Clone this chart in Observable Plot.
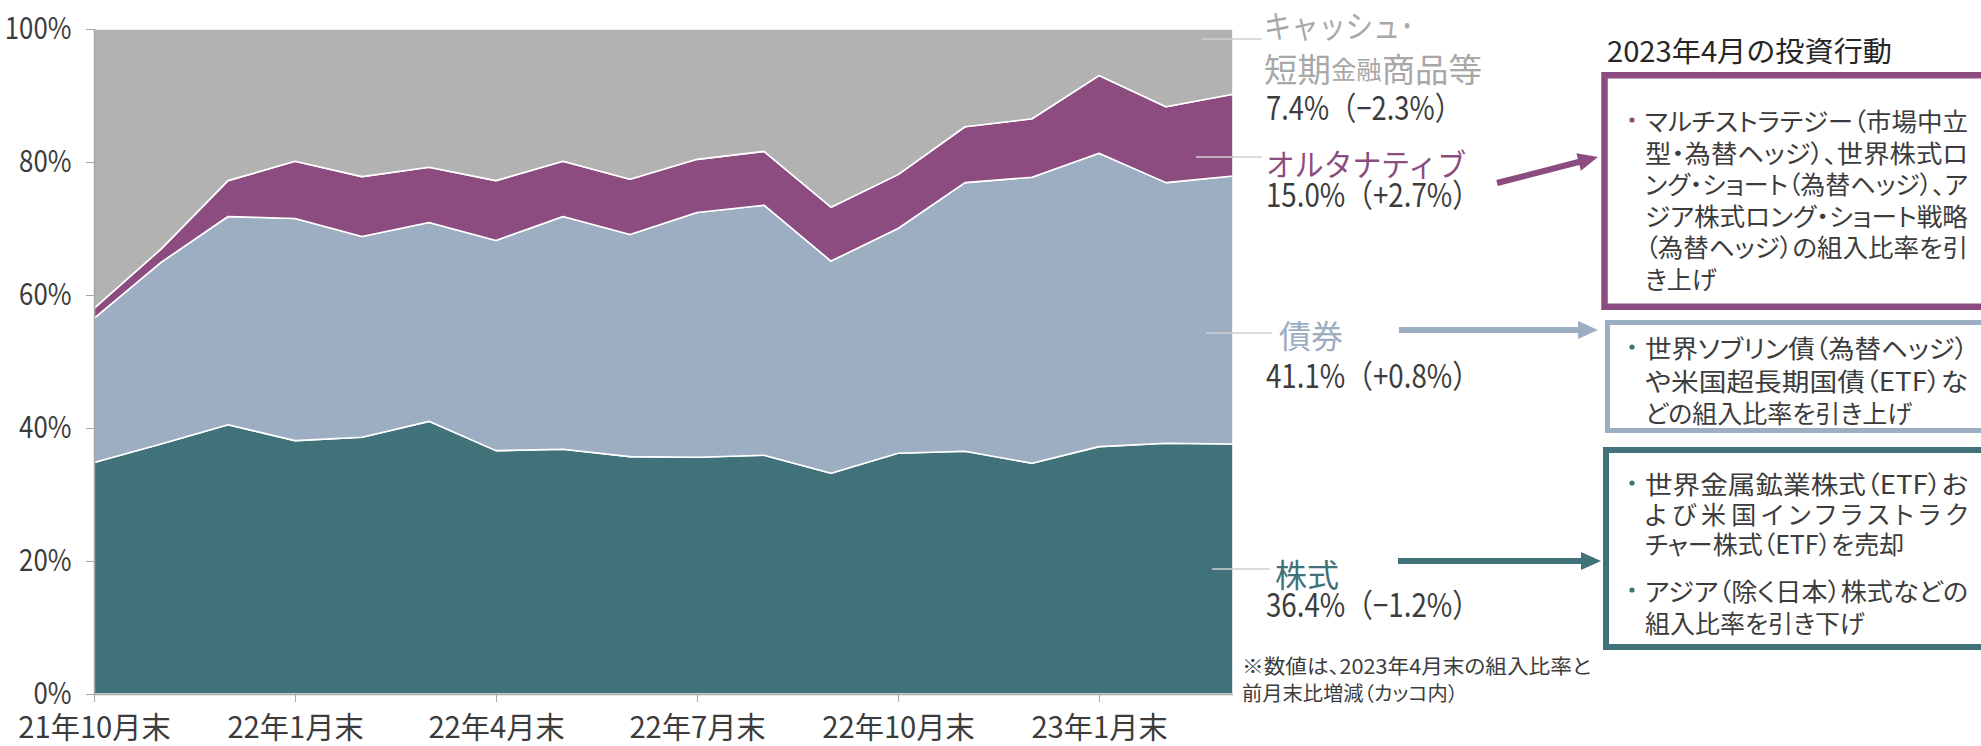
<!DOCTYPE html>
<html>
<head>
<meta charset="utf-8">
<script src="https://cdn.jsdelivr.net/npm/d3@7"></script>
<script src="https://cdn.jsdelivr.net/npm/@observablehq/plot@0.6"></script>
<style>
  html, body { margin: 0; padding: 0; background: #fff; }
  #chart { width: 1981px; height: 746px; overflow: hidden; }
  .palt { font-feature-settings: "palt"; }
</style>
</head>
<body>
<div id="chart"></div>
<script>
// ---- categories (month ends) ----
const months = ["21年10月","21年11月","21年12月","22年1月","22年2月","22年3月","22年4月","22年5月","22年6月",
                "22年7月","22年8月","22年9月","22年10月","22年11月","22年12月","23年1月","23年2月","23年3月"];
const tickMonths = ["21年10月","22年1月","22年4月","22年7月","22年10月","23年1月"];
const yTicks = [0, 20, 40, 60, 80, 100];

// ---- series (% of portfolio) ----
const assets = ["株式", "債券", "オルタナティブ", "キャッシュ・短期金融商品等"];
const stocks = [34.8,37.6,40.5,38.1,38.6,41.0,36.6,36.8,35.7,35.6,35.9,33.2,36.2,36.5,34.7,37.2,37.7,37.6];
const bonds  = [21.7,27.3,31.3,33.4,30.2,29.9,31.6,35.0,33.4,36.8,37.6,31.9,33.8,40.4,43.0,44.1,39.2,40.3];
const alts   = [ 1.5, 2.0, 5.4, 8.6, 9.0, 8.3, 9.0, 8.3, 8.3, 8.0, 8.1, 8.1, 8.1, 8.4, 8.8,11.7,11.4,12.3];
const cash   = [42.0,33.1,22.8,19.9,22.2,20.8,22.8,19.9,22.6,19.6,18.4,26.8,21.9,14.7,13.5, 7.0,11.7, 9.8];

// ---- annotation texts ----
const cashName1 = "キャッシュ･";
const cashName2 = ["短期", "金融", "商品等"];
const cashValue = "7.4%（−2.3%）";
const altName = "オルタナティブ", altValue = "15.0%（+2.7%）";
const bondName = "債券", bondValue = "41.1%（+0.8%）";
const stockName = "株式", stockValue = "36.4%（−1.2%）";
const note = ["※数値は、2023年4月末の組入比率と", "前月末比増減（カッコ内）"];
const panelTitle = "2023年4月の投資行動";
const altBox = ["マルチストラテジー（市場中立", "型・為替ヘッジ）、世界株式ロ", "ング・ショート（為替ヘッジ）、ア",
                "ジア株式ロング・ショート戦略", "（為替ヘッジ）の組入比率を引", "き上げ"];
const bondBox = ["世界ソブリン債（為替ヘッジ）", "や米国超長期国債（ETF）な", "どの組入比率を引き上げ"];
const stockBox = ["世界金属鉱業株式（ETF）お", "よび米国インフラストラク", "チャー株式（ETF）を売却",
                  "アジア（除く日本）株式などの", "組入比率を引き下げ"];

// ---- styles ----
const colors = ["#417279", "#9dadc2", "#8c4c80", "#b2b2b2"];
const JP = "'Noto Sans CJK JP', sans-serif";
const TXT = "#3c3c3c";
const AXIS = "#a6a6a6";

const series = [stocks, bonds, alts, cash];
const table = [];
months.forEach((m, i) => series.forEach((s, k) => table.push({i, month: m, asset: assets[k], value: s[i]})));
const tickIdx = tickMonths.map(m => months.indexOf(m));

const svg = Plot.plot({
  width: 1981,
  height: 746,
  marginLeft: 94,
  marginRight: 748,
  marginTop: 29,
  marginBottom: 52,
  style: {fontFamily: JP, background: "#fff", overflow: "visible"},
  x: {type: "linear", domain: [0, months.length - 1]},
  y: {domain: [0, 100]},
  color: {domain: assets, range: colors},
  marks: [
    Plot.areaY(table, {x: "i", y: "value", z: "asset", fill: "asset", stroke: "#fff", strokeWidth: 1.6, strokeLinejoin: "round"}),
    Plot.ruleX([0], {stroke: AXIS, strokeWidth: 1.5}),
    Plot.ruleY([0], {stroke: AXIS, strokeWidth: 1.5}),
    Plot.axisY({ticks: yTicks, tickFormat: d => d + "%", tickSize: 8, tickPadding: 15, fontSize: 30,
                stroke: AXIS, fill: TXT, label: null}),
    Plot.axisX({ticks: tickIdx, tickFormat: i => months[i] + "末", tickSize: 8, tickPadding: 15, fontSize: 29.5,
                stroke: AXIS, fill: TXT, label: null})
  ]
});
document.getElementById("chart").appendChild(svg);

// condense text horizontally (reference uses a narrow gothic face)
function condense(nodes, f) {
  nodes.forEach(el => {
    const L = el.getComputedTextLength();
    el.setAttribute("textLength", (L * f).toFixed(1));
    el.setAttribute("lengthAdjust", "spacingAndGlyphs");
  });
}
condense([...svg.querySelectorAll('[aria-label="y-axis tick label"] text')], 0.86);
condense([...svg.querySelectorAll('[aria-label="x-axis tick label"] text')], 0.99);

// ---- annotations ----
const g = d3.select(svg).append("g").attr("text-anchor", "start");
function text(x, y, s, o = {}) {
  const t = g.append("text").attr("x", x).attr("y", y).attr("text-anchor", "start")
    .attr("font-family", o.family || JP).attr("font-size", o.size || 24)
    .attr("fill", o.fill || TXT).text(s);
  if (o.cls) t.attr("class", o.cls);
  if (o.central) t.attr("dominant-baseline", "central");
  if (o.weight) t.attr("font-weight", o.weight);
  if (o.len) t.attr("textLength", o.len).attr("lengthAdjust", o.adjust || "spacingAndGlyphs");
  if (o.condense) condense([t.node()], o.condense);
  return t;
}
function line(x1, y1, x2, y2, stroke, w) {
  g.append("line").attr("x1", x1).attr("y1", y1).attr("x2", x2).attr("y2", y2)
    .attr("stroke", stroke).attr("stroke-width", w);
}
function arrow(x1, y1, x2, y2, color) {
  const dx = x2 - x1, dy = y2 - y1, L = Math.hypot(dx, dy), ux = dx / L, uy = dy / L;
  const hl = 20, hw = 9;
  const bx = x2 - ux * hl, by = y2 - uy * hl;
  line(x1, y1, bx + ux * 2, by + uy * 2, color, 6);
  g.append("path").attr("fill", color)
    .attr("d", `M${x2},${y2}L${bx - uy * hw},${by + ux * hw}L${bx + uy * hw},${by - ux * hw}Z`);
}
function box(x, y, w, h, color, sw) {
  g.append("rect").attr("x", x).attr("y", y).attr("width", w).attr("height", h)
    .attr("fill", "none").attr("stroke", color).attr("stroke-width", sw);
}

// leader lines
const LEAD = "#cfcfcf";
line(1202, 39, 1262, 39, LEAD, 1.5);
line(1196, 157, 1262, 157, LEAD, 1.5);
line(1206, 333, 1272, 333, LEAD, 1.5);
line(1212, 569, 1270, 569, LEAD, 1.5);

// category labels
text(1264, 24, cashName1, {size: 32, fill: "#a8a8a8", central: true, len: 150});
{
  const t = g.append("text").attr("x", 1264).attr("y", 68).attr("font-family", JP).attr("text-anchor", "start")
    .attr("fill", "#a8a8a8").attr("dominant-baseline", "central")
    .attr("textLength", 218).attr("lengthAdjust", "spacingAndGlyphs");
  t.append("tspan").attr("font-size", 33).text(cashName2[0]);
  t.append("tspan").attr("font-size", 25).text(cashName2[1]);
  t.append("tspan").attr("font-size", 33).text(cashName2[2]);
}
text(1266, 120, cashValue, {size: 32, len: 196});
text(1266, 162, altName, {size: 31, fill: colors[2], central: true, len: 200});
text(1266, 207, altValue, {size: 32, len: 214});
text(1279, 334, bondName, {size: 32, fill: colors[1], central: true});
text(1266, 388, bondValue, {size: 32, len: 214});
text(1275, 573, stockName, {size: 32, fill: colors[0], central: true});
text(1266, 617, stockValue, {size: 32, len: 214});
text(1242, 665, note[0], {size: 20, central: true, len: 349, cls: "palt"});
text(1242, 692, note[1], {size: 20, central: true, len: 216, cls: "palt"});

// arrows
arrow(1497, 183, 1598, 157, colors[2]);
arrow(1399, 330, 1598, 330, colors[1]);
arrow(1398, 561, 1601, 561, colors[0]);

// panel
text(1607, 49, panelTitle, {size: 28.5, fill: "#262626", central: true, len: 285});
box(1604.5, 75.25, 420, 231.5, colors[2], 6.5);
box(1607.5, 322.5, 420, 108, colors[1], 5);
box(1606, 450, 420, 197, colors[0], 6);

const TX = 1645, BX = 1632, END = 1968;
function boxLines(lines, ys, fullIdx, bullets, bulletColor, spacedIdx = []) {
  lines.forEach((s, k) => {
    const o = {size: 25, central: true, cls: "palt"};
    if (fullIdx.includes(k)) { o.len = END - TX; if (spacedIdx.includes(k)) o.adjust = "spacing"; }
    text(TX, ys[k], s, o);
  });
  bullets.forEach(k => g.append("circle").attr("cx", BX).attr("cy", ys[k]).attr("r", 2.6).attr("fill", bulletColor));
}
boxLines(altBox, [120, 151.5, 183, 214.5, 246, 277.5], [0, 1, 2, 3, 4], [0], colors[2]);
boxLines(bondBox, [347, 379.5, 411.5], [0, 1], [0], colors[0]);
boxLines(stockBox, [483, 513, 543, 590, 621.5], [0, 1, 3], [0, 3], colors[0], [1]);
</script>
</body>
</html>
